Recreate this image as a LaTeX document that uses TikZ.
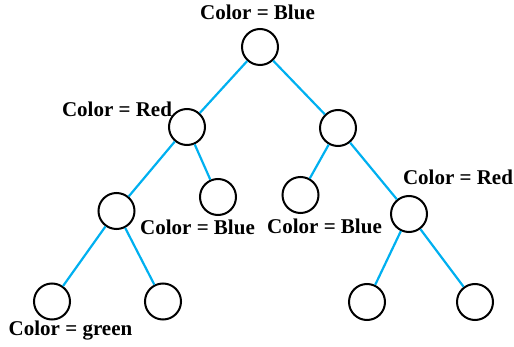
\documentclass[tikz,border=0pt]{standalone}
\usepackage{fontspec}
\setmainfont{Liberation Serif}
\begin{document}
\begin{tikzpicture}[x=1pt,y=-1pt,
  vert/.style={circle,draw=black,line width=2pt,minimum size=36pt,inner sep=0pt},
  edge/.style={draw={rgb,255:red,0;green,176;blue,240},line width=2.2pt},
  lbl/.style={anchor=base,inner sep=0pt,font=\fontsize{21}{25}\selectfont\bfseries}]
\useasboundingbox (0,0) rectangle (514,347);
\node[vert] (r) at (260,47) {};
\node[vert] (a) at (187,127) {};
\node[vert] (b) at (338,128) {};
\node[vert] (aa) at (116.5,211) {};
\node[vert] (ab) at (218,197) {};
\node[vert] (ba) at (300.5,195) {};
\node[vert] (bb) at (409,214) {};
\node[vert] (aaa) at (52,301.5) {};
\node[vert] (aab) at (163,301.5) {};
\node[vert] (bba) at (367,302) {};
\node[vert] (bbb) at (475,302) {};
\foreach \u/\v in {r/a,r/b,a/aa,a/ab,b/ba,b/bb,aa/aaa,aa/aab,bb/bba,bb/bbb}
  \draw[edge] (\u) -- (\v);
\node[lbl] (l1) at (257.5,20) {Color = Blue};
\node[lbl] (l2) at (117,117) {Color = Red};
\node[lbl] (l3) at (197.5,235) {Color = Blue};
\node[lbl] (l4) at (324.5,234) {Color = Blue};
\node[lbl] (l5) at (458,185) {Color = Red};
\node[lbl] (l6) at (70.5,335) {Color = green};
\end{tikzpicture}
\end{document}
